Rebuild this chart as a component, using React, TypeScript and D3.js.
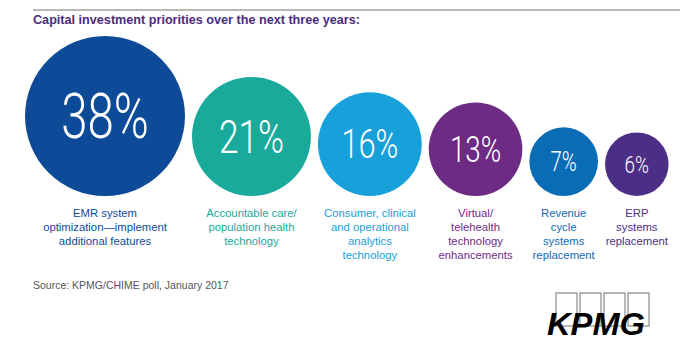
import * as d3 from "d3";

const values = [38, 21, 16, 13, 7, 6];
const labels = [
  ["EMR system", "optimization\u2014implement", "additional features"],
  ["Accountable care/", "population health", "technology"],
  ["Consumer, clinical", "and operational", "analytics", "technology"],
  ["Virtual/", "telehealth", "technology", "enhancements"],
  ["Revenue", "cycle", "systems", "replacement"],
  ["ERP", "systems", "replacement"],
];
const colors = ["#0d4b98", "#19aa9b", "#17a0da", "#6e2b85", "#0b6cb6", "#4d2e86"];
const title = "Capital investment priorities over the next three years:";
const source = "Source: KPMG/CHIME poll, January 2017";

const W = 700;
const H = 360;

export default function App() {
  const r = d3.scaleSqrt().domain([0, 38]).range([0, 80]);
  const gap = 7;
  const left = 25;
  const baseY = 196;

  // lay the bubbles out side by side, bottoms aligned
  let cursor = left;
  const nodes = values.map((v, i) => {
    const rad = r(v);
    const cx = cursor + rad;
    cursor += rad * 2 + gap;
    return { v, rad, cx, cy: baseY - rad, color: colors[i], lines: labels[i] };
  });

  return (
    <svg
      width={W}
      height={H}
      style={{ position: "absolute", top: 0, left: 0, background: "#fff" }}
    >
      <line x1={33} x2={680} y1={10} y2={10} stroke="#a0a0a0" strokeWidth={1.5} />
      <text
        x={33}
        y={24}
        fontFamily="'Liberation Sans Narrow', 'Arial Narrow', 'Liberation Sans', sans-serif"
        fontWeight="bold"
        fontSize={13.5}
        fill="#4b2c80"
        textLength={327}
        lengthAdjust="spacingAndGlyphs"
      >
        {title}
      </text>

      {nodes.map((d, i) => {
        const fs = d.rad * 0.78;
        return (
          <g key={i}>
            <circle cx={d.cx} cy={d.cy} r={d.rad} fill={d.color} />
            <g transform={`translate(${d.cx},${d.cy}) scale(0.76,1)`}>
              <text
                x={0}
                y={fs * 0.355}
                textAnchor="middle"
                fontFamily="Roboto, 'Liberation Sans', sans-serif"
                fontWeight={300}
                fontSize={fs}
                fill="#fff"
              >
                {d.v}%
              </text>
            </g>
            <text
              textAnchor="middle"
              fontFamily="'Liberation Sans', Arial, sans-serif"
              fontSize={11.3}
              fill={d.color}
            >
              {d.lines.map((ln, j) => (
                <tspan key={j} x={d.cx} y={217 + j * 14}>
                  {ln}
                </tspan>
              ))}
            </text>
          </g>
        );
      })}

      <text
        x={33}
        y={289}
        fontFamily="'Liberation Sans', Arial, sans-serif"
        fontSize={10.5}
        fill="#555"
      >
        {source}
      </text>

      {/* KPMG logo */}
      <g>
        {[0, 1, 2, 3].map((k) => (
          <rect
            key={k}
            x={556 + k * 24}
            y={293}
            width={21}
            height={33}
            fill="none"
            stroke="#8a8a8a"
            strokeWidth={1.2}
          />
        ))}
        <text
          x={547}
          y={335}
          fontFamily="'Liberation Sans', Arial, sans-serif"
          fontWeight="bold"
          fontStyle="italic"
          fontSize={32}
          fill="#000"
          textLength={98}
          lengthAdjust="spacingAndGlyphs"
          stroke="#fff"
          strokeWidth={0}
        >
          KPMG
        </text>
      </g>
    </svg>
  );
}
